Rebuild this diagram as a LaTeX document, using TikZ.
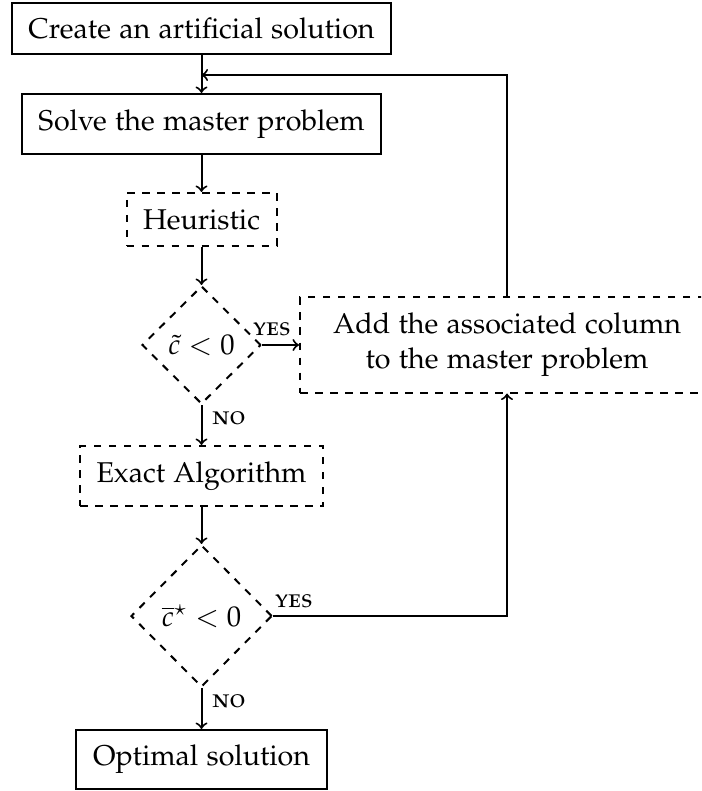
\documentclass[tikz,border=0pt]{standalone}
\usepackage[T1]{fontenc}
\usepackage[sc]{mathpazo}
\usetikzlibrary{shapes.geometric,arrows}
\begin{document}
\begin{tikzpicture}[x=0.4pt,y=-0.4pt,
  mainfont/.style={font=\fontsize{11.45}{14}\selectfont},
  solidbox/.style={mainfont,draw,thick,rectangle,inner sep=0pt,align=center},
  dashbox/.style={mainfont,draw,thick,dashed,rectangle,inner sep=0pt,align=center},
  dec/.style={mainfont,draw,thick,dashed,diamond,inner sep=0pt},
  conn/.style={thick,->,>=to},
  lbl/.style={font=\fontsize{10.4}{12}\selectfont\scshape,inner sep=0pt}]
\useasboundingbox (0,0) rectangle (701,791);
\clip (0,0) rectangle (701,791);
\node[solidbox,minimum width=151.6pt,minimum height=20.4pt] (create) at (201.5,28.5) {Create an artificial solution};
\node[solidbox,minimum width=143.6pt,minimum height=24pt] (solve) at (201.5,124) {Solve the master problem};
\node[dashbox,minimum width=60pt,minimum height=21.2pt] (heur) at (201.5,219.5) {Heuristic};
\node[dec,minimum width=47.6pt,minimum height=47.2pt] (d1) at (201.5,345) {$\tilde{c} < 0$};
\node[dashbox,minimum width=200pt,minimum height=38pt] (add) at (550,345) {};
\node[mainfont,align=center] (addtext) at (507,345) {Add the associated column\\to the master problem};
\node[dashbox,minimum width=97.2pt,minimum height=24pt] (exact) at (201.5,476) {Exact Algorithm};
\node[dec,minimum width=56.4pt,minimum height=56.8pt] (d2) at (201.5,616) {$\overline{c}^{\star} < 0$};
\node[solidbox,minimum width=100.4pt,minimum height=23.6pt] (opt) at (201.5,759.5) {Optimal solution};
\coordinate (colx) at (507,0);
\coordinate (join) at (201.5,75);
\coordinate (upb) at (add.north -| colx);
\coordinate (upc) at (join -| colx);
\coordinate (dnb) at (add.south -| colx);
\coordinate (d2r) at (d2.east -| colx);
\draw[conn] (create) -- (solve);
\draw[conn] (upb) -- (upc) -- (join);
\draw[conn] (solve) -- (heur);
\draw[conn] (heur) -- (d1);
\draw[conn] (d1.east) -- (add.west |- d1.east);
\draw[conn] (d1.south) -- (exact.north);
\draw[conn] (exact) -- (d2);
\draw[conn] (d2.east) -- (d2r) -- (dnb);
\draw[conn] (d2.south) -- (opt.north);
\node[lbl] (y1) at (272,329) {yes};
\node[lbl] (n1) at (229,418) {no};
\node[lbl] (y2) at (294,601) {yes};
\node[lbl] (n2) at (229,701) {no};
\end{tikzpicture}
\end{document}
